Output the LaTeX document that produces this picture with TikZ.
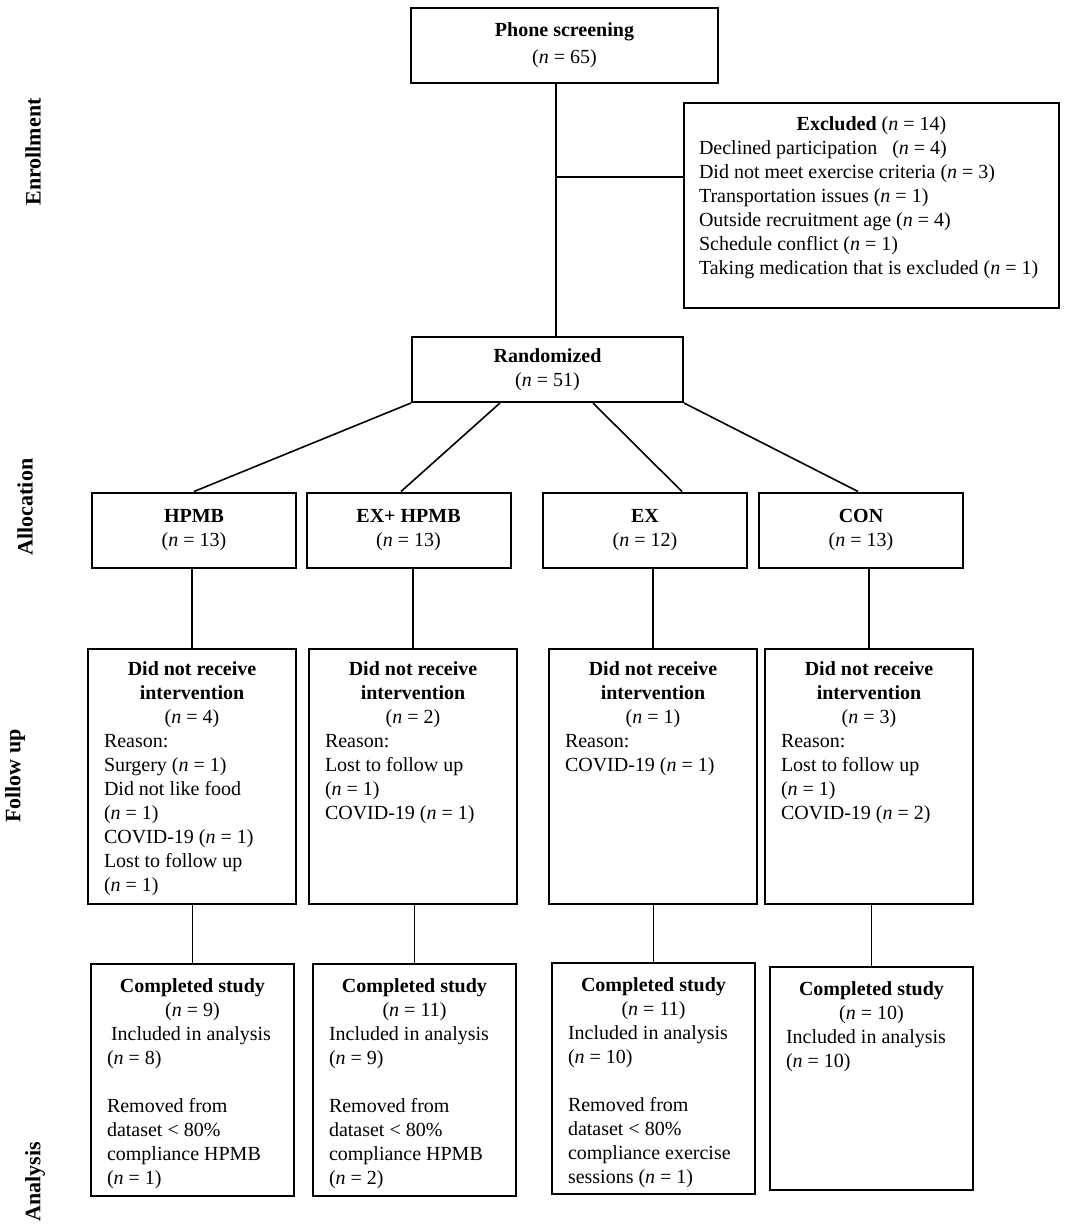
\documentclass[tikz,border=0pt]{standalone}
\usepackage{fontspec}
\setmainfont{Liberation Serif}
\usepackage{tikz}

\begin{document}
\begin{tikzpicture}[x=1pt,y=-1pt,-]
    \tikzstyle{flow}=[draw=black,line width=2pt,align=center,inner sep=0pt,font=\fontsize{20}{24}\selectfont]
    \tikzstyle{tall}=[draw=black,line width=2pt,anchor=north west,inner xsep=16pt,inner ysep=13pt,font=\fontsize{20}{24}\selectfont]
    \tikzstyle{phase}=[rotate=90,font=\fontsize{22}{26}\selectfont\bfseries]
    \tikzstyle{link}=[line width=1.6pt]
    \useasboundingbox (0,0) rectangle (1084,1229);

    % enrollment
    \node[flow,minimum width=307pt,minimum height=75pt] (phone) at (564.5,45.5) {\textbf{Phone screening}\\[3pt](\textit{n} = 65)};
    \node[tall,inner xsep=10pt,inner ysep=14pt] (excl) at (683,102) {\parbox[t][177pt][t]{355pt}{\centering\textbf{Excluded} (\textit{n} = 14)\par
        \raggedright\leftskip=5pt Declined participation\hspace{0.5em} (\textit{n} = 4)\\Did not meet exercise criteria (\textit{n} = 3)\\Transportation issues (\textit{n} = 1)\\Outside recruitment age (\textit{n} = 4)\\Schedule conflict (\textit{n} = 1)\\Taking medication that is excluded (\textit{n} = 1)}};
    \node[flow,minimum width=271pt,minimum height=65pt] (rand) at (547.5,369.5) {\textbf{Randomized}\\(\textit{n} = 51)};

    % allocation
    \foreach \name/\x/\grp/\num in {al1/194/HPMB/13, al2/408.5/EX+ HPMB/13, al3/645/EX/12, al4/861/CON/13}
        \node[flow,minimum width=204pt,minimum height=75pt] (\name) at (\x,530) {\textbf{\grp}\\(\textit{n} = \num)};

    % follow up
    \node[tall] (fu1) at (87,648) {\parbox[t][229pt][t]{176pt}{\centering\textbf{Did not receive}\\\textbf{intervention}\\(\textit{n} = 4)\par
        \raggedright Reason:\\Surgery (\textit{n} = 1)\\Did not like food\\(\textit{n} = 1)\\COVID-19 (\textit{n} = 1)\\Lost to follow up\\(\textit{n} = 1)}};
    \node[tall] (fu2) at (308,648) {\parbox[t][229pt][t]{176pt}{\centering\textbf{Did not receive}\\\textbf{intervention}\\(\textit{n} = 2)\par
        \raggedright Reason:\\Lost to follow up\\(\textit{n} = 1)\\COVID-19 (\textit{n} = 1)}};
    \node[tall] (fu3) at (548,648) {\parbox[t][229pt][t]{176pt}{\centering\textbf{Did not receive}\\\textbf{intervention}\\(\textit{n} = 1)\par
        \raggedright Reason:\\COVID-19 (\textit{n} = 1)}};
    \node[tall] (fu4) at (764,648) {\parbox[t][229pt][t]{176pt}{\centering\textbf{Did not receive}\\\textbf{intervention}\\(\textit{n} = 3)\par
        \raggedright Reason:\\Lost to follow up\\(\textit{n} = 1)\\COVID-19 (\textit{n} = 2)}};

    % analysis
    \node[tall,inner ysep=15pt] (an1) at (90,963) {\parbox[t][202pt][t]{171pt}{\centering\textbf{Completed study}\\(\textit{n} = 9)\par
        \raggedright\hspace*{4pt}Included in analysis\\(\textit{n} = 8)\\[24pt]Removed from\\dataset < 80\%\\compliance HPMB\\(\textit{n} = 1)}};
    \node[tall,inner ysep=15pt] (an2) at (312,963) {\parbox[t][202pt][t]{171pt}{\centering\textbf{Completed study}\\(\textit{n} = 11)\par
        \raggedright Included in analysis\\(\textit{n} = 9)\\[24pt]Removed from\\dataset < 80\%\\compliance HPMB\\(\textit{n} = 2)}};
    \node[tall,inner ysep=15pt] (an3) at (551,962) {\parbox[t][201pt][t]{171pt}{\centering\textbf{Completed study}\\(\textit{n} = 11)\par
        \raggedright Included in analysis\\(\textit{n} = 10)\\[24pt]Removed from\\dataset < 80\%\\compliance exercise\\sessions (\textit{n} = 1)}};
    \node[tall,inner ysep=15pt] (an4) at (769,966) {\parbox[t][193pt][t]{171pt}{\centering\textbf{Completed study}\\(\textit{n} = 10)\par
        \raggedright Included in analysis\\(\textit{n} = 10)}};

    % phase labels
    \node[phase] (enrol) at (33,152) {Enrollment};
    \node[phase] (alloc) at (25,507) {Allocation};
    \node[phase] (follow) at (15,776) {Follow up};
    \node[phase] (analy) at (35,1182) {Analysis};

    % connectors
    \coordinate (split) at (556,177);
    \draw[link] (split |- phone.south) -- (split |- rand.north);
    \draw[link] (split) -- (split -| excl.west);
    \draw[link] (rand.south west) -- (al1.north);
    \draw[link] ([xshift=-47.5pt]rand.south) -- ([xshift=-7.5pt]al2.north);
    \draw[link] ([xshift=45.5pt]rand.south) -- ([xshift=37pt]al3.north);
    \draw[link] (rand.south east) -- ([xshift=-3pt]al4.north);
    \foreach \up/\down in {al1/fu1, al2/fu2, al3/fu3, al4/fu4, fu1/an1, fu2/an2, fu3/an3, fu4/an4}
        \draw[link] (\down.north) -- (\down.north |- \up.south);
\end{tikzpicture}
\end{document}
